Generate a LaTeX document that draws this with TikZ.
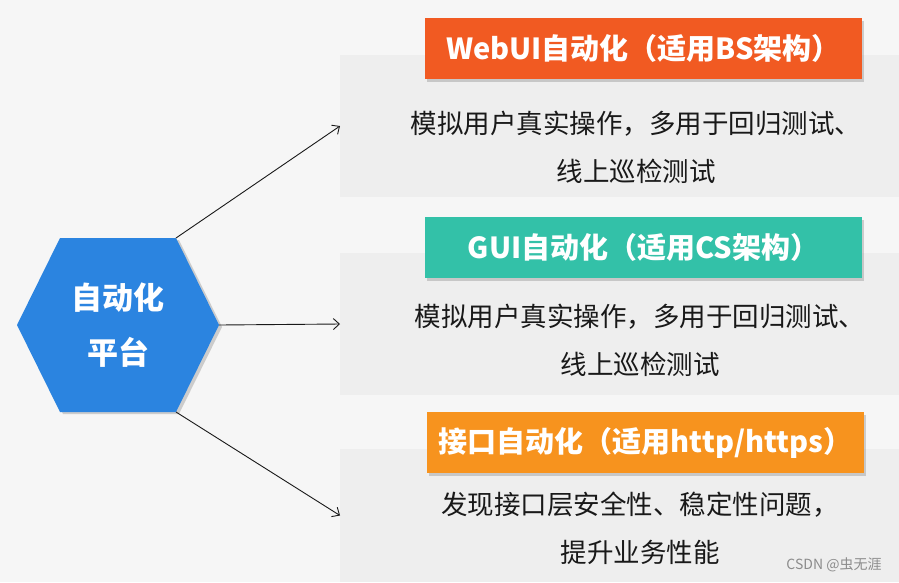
\documentclass[tikz,border=0pt]{standalone}
\usepackage{fontspec}
\newfontfamily\cjk{Noto Sans CJK SC}
\usetikzlibrary{arrows.meta,shadows}
\definecolor{HexBlue}{RGB}{43,132,224}
\definecolor{WebRed}{RGB}{241,90,34}
\definecolor{GuiTeal}{RGB}{51,193,168}
\definecolor{ApiOrange}{RGB}{247,147,30}
\definecolor{PageGray}{RGB}{246,246,246}
\definecolor{PanelGray}{RGB}{238,238,238}
\definecolor{Ink}{RGB}{25,25,25}
\definecolor{MarkGray}{RGB}{140,140,140}
\tikzset{
  >=Latex,
  panel/.style={fill=PanelGray,draw=none,minimum width=559pt,minimum height=142pt,inner sep=0pt,outer sep=0pt},
  titlebox/.style={draw=none,minimum width=437pt,minimum height=61pt,inner sep=0pt,text=white,font=\cjk\bfseries\fontsize{29}{34}\selectfont,drop shadow={opacity=.35,shadow xshift=2pt,shadow yshift=-3pt}},
  body/.style={align=center,text=Ink,font=\cjk\fontsize{26.5}{48}\selectfont},
  hexshape/.style={fill=HexBlue,drop shadow={opacity=.35,shadow xshift=3pt,shadow yshift=-2pt}},
  hub/.style={text=white,align=center,font=\cjk\bfseries\fontsize{31}{55}\selectfont},
  link/.style={-{Straight Barb[length=6pt,width=11pt]},line width=.9pt,draw=Ink},
  wmark/.style={font=\cjk\fontsize{14}{16}\selectfont,text=MarkGray}
}

\begin{document}
\begin{tikzpicture}[x=1pt,y=-1pt]
  \fill[PageGray] (0,0) rectangle (899,582);
  \useasboundingbox (0,0) rectangle (899,582);
  % gray panels
  \node[panel] (p1) at (619.5,126) {};
  \node[panel] (p2) at (619.5,324) {};
  \node[panel,minimum height=133pt] (p3) at (619.5,515.5) {};
  % titles
  \node[titlebox,fill=WebRed] (t1) at (643.5,48.5) {WebUI自动化（适用BS架构）};
  \node[titlebox,fill=GuiTeal] (t2) at (643.5,247) {GUI自动化（适用CS架构）};
  \node[titlebox,fill=ApiOrange] (t3) at (645.5,442.5) {接口自动化（适用http/https）};
  % descriptions
  \node[body] (d1) at (636,147) {模拟用户真实操作，多用于回归测试、\\线上巡检测试};
  \node[body] (d2) at (640,340) {模拟用户真实操作，多用于回归测试、\\线上巡检测试};
  \node[body] (d3) at (640,528) {发现接口层安全性、稳定性问题，\\提升业务性能};
  % hub hexagon
  \coordinate (hexL) at (17,325);
  \coordinate (hexTL) at (60,238);
  \coordinate (hexTR) at (176,238);
  \coordinate (hexR) at (219,325);
  \coordinate (hexBR) at (176,412);
  \coordinate (hexBL) at (60,412);
  \fill[hexshape] (hexL)--(hexTL)--(hexTR)--(hexR)--(hexBR)--(hexBL)--cycle;
  \node[hub] (hub) at (118,325) {自动化\\平台};
  \draw[link] (hexTR)--(p1.west);
  \draw[link] (hexR)--(p2.west);
  \draw[link] (hexBR)--(p3.west);
  \node[wmark] (wm) at (834,565) {CSDN @虫无涯};
\end{tikzpicture}
\end{document}
